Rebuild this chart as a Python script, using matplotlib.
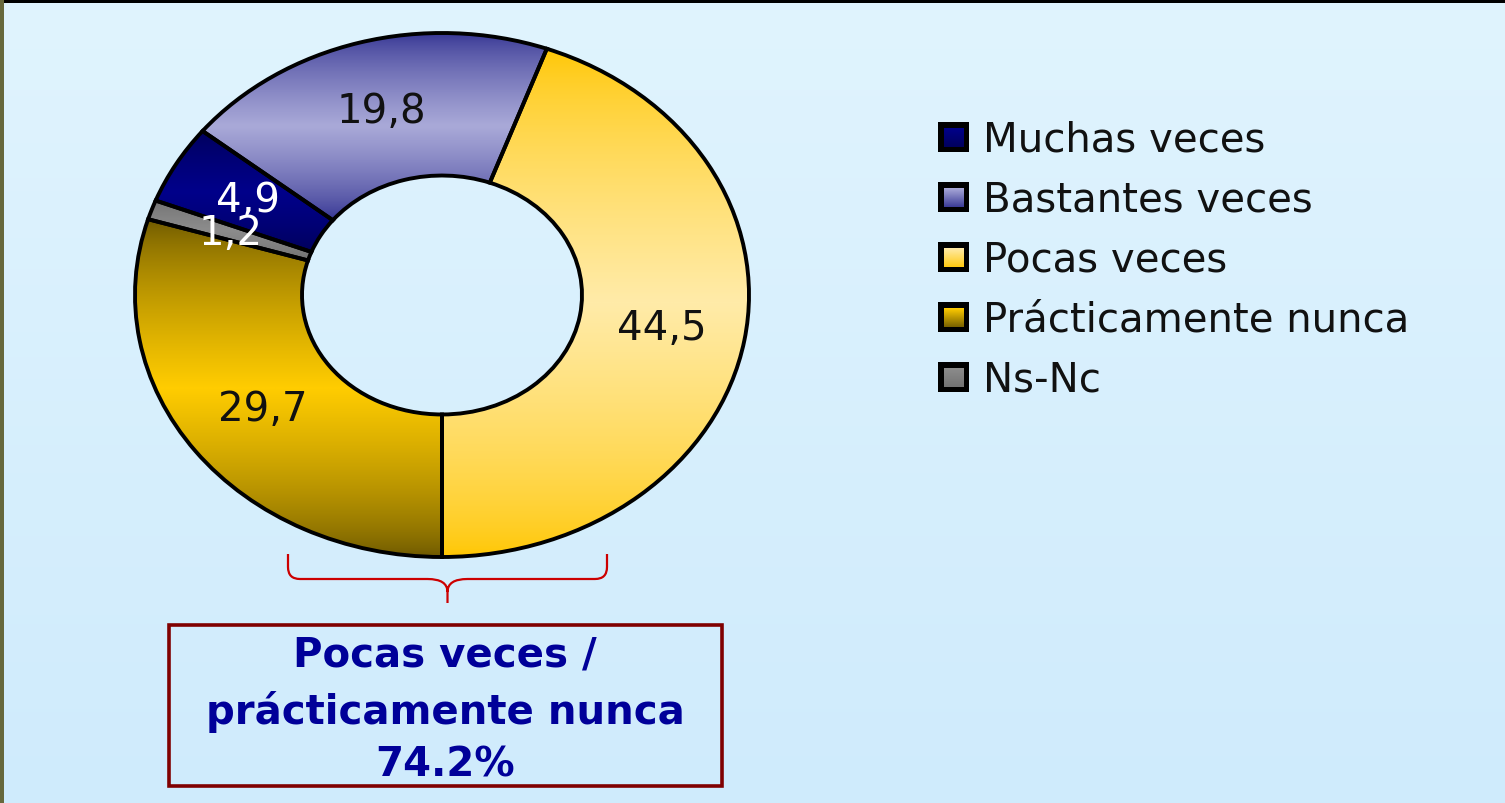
import numpy as np
import matplotlib.pyplot as plt
from matplotlib.colors import LinearSegmentedColormap
from matplotlib.patches import Rectangle, PathPatch
from matplotlib.path import Path

# survey answers, in legend order
categories = ['Muchas veces', 'Bastantes veces', 'Pocas veces',
              'Prácticamente nunca', 'Ns-Nc']
values = [4.9, 19.8, 44.5, 29.7, 1.2]
# order the ring is drawn in, counter-clockwise from the bottom
ring_order = [2, 1, 0, 4, 3]
# (edge colour, centre colour) of each slice gradient
shades = [('#000058', '#00008a'),
          ('#303090', '#a9a9d8'),
          ('#ffc600', '#ffeba8'),
          ('#6a5600', '#ffcc00'),
          ('#707070', '#8c8c8c')]
label_colors = ['white', '#111111', '#111111', '#111111', 'white']
box_lines = ['Pocas veces /', 'prácticamente nunca', '74.2%']

W, H = 1505, 804
fig = plt.figure(figsize=(W / 100, H / 100), dpi=100)

# background and frame, in pixel coordinates
bg = fig.add_axes([0, 0, 1, 1])
bg.axis('off')
bg_cmap = LinearSegmentedColormap.from_list('bg', ['#e0f4fe', '#cfebfc'])
bg.imshow(np.linspace(0, 1, 256).reshape(-1, 1), cmap=bg_cmap,
          extent=(0, W, H, 0), aspect='auto', zorder=0)
bg.add_patch(Rectangle((0, 0), W, 3.5, fc='black', ec='none', zorder=1))
bg.add_patch(Rectangle((0, 0), 3.5, H, fc='#66683c', ec='none', zorder=1))


def gradient_cmap(i):
    edge, centre = shades[i]
    return LinearSegmentedColormap.from_list('s%d' % i, [edge, centre])


# donut, squashed vertically
cx, cy, rx, ry = 442, 296, 307, 262
pad = 1.03
ax = fig.add_axes([(cx - rx * pad) / W, 1 - (cy + ry * pad) / H,
                   2 * rx * pad / W, 2 * ry * pad / H])
ring_w = 0.544
wedges, _ = ax.pie([values[i] for i in ring_order], startangle=270,
                   counterclock=True, radius=1,
                   wedgeprops=dict(width=ring_w, edgecolor='black',
                                   linewidth=2.8))

# light in the middle of each slice, darker towards its top and bottom
t = (1 - np.abs(np.linspace(-1, 1, 300)).reshape(-1, 1)) ** 0.7
for w, i in zip(wedges, ring_order):
    bb = w.get_path().get_extents()
    im = ax.imshow(t, cmap=gradient_cmap(i), extent=(bb.x0, bb.x1, bb.y0, bb.y1),
                   aspect='auto', interpolation='bilinear', zorder=w.get_zorder() - 0.5)
    im.set_clip_path(w)
    w.set_facecolor('none')

    mid = np.deg2rad((w.theta1 + w.theta2) / 2)
    r = 1 - ring_w / 2
    ax.text(r * np.cos(mid), r * np.sin(mid), ('%.1f' % values[i]).replace('.', ','),
            ha='center', va='center', fontsize=29, color=label_colors[i], zorder=5)

ax.set_aspect('auto')
ax.set_xlim(-pad, pad)
ax.set_ylim(-pad, pad)
ax.axis('off')

# legend
for k, name in enumerate(categories):
    top = 123 + 60 * k
    bg.add_patch(Rectangle((938, top), 31, 30, fc='black', ec='none', zorder=2))
    bg.imshow(np.linspace(1, 0.1, 50).reshape(-1, 1), cmap=gradient_cmap(k),
              vmin=0, vmax=1, extent=(944, 964, top + 25, top + 6),
              aspect='auto', zorder=3)
    bg.text(983, top + 29, name, fontsize=29, color='#111111',
            ha='left', va='baseline', zorder=3)


# curly brace under the two lower slices
def brace(x0, x1, y0, ym, yt):
    xc = (x0 + x1) / 2
    verts = [(x0, y0), (x0, ym - 12), (x0, ym), (x0 + 12, ym), (xc - 20, ym),
             (xc, ym), (xc, ym + 13), (xc, yt),
             (x1, y0), (x1, ym - 12), (x1, ym), (x1 - 12, ym), (xc + 20, ym),
             (xc, ym), (xc, ym + 13)]
    codes = [Path.MOVETO, Path.LINETO, Path.CURVE3, Path.CURVE3, Path.LINETO,
             Path.CURVE3, Path.CURVE3, Path.LINETO,
             Path.MOVETO, Path.LINETO, Path.CURVE3, Path.CURVE3, Path.LINETO,
             Path.CURVE3, Path.CURVE3]
    return PathPatch(Path(verts, codes), fc='none', ec='#cc0000', lw=1.6, zorder=2)


bg.add_patch(brace(288, 607, 555, 580, 604))

# summary box
bg.add_patch(Rectangle((169, 626), 553, 161, fc='none', ec='#800000',
                       lw=2.6, zorder=2))
for line, base in zip(box_lines, [667, 724, 777]):
    bg.text(445, base, line, fontsize=29, fontweight='bold', color='#000099',
            ha='center', va='baseline', zorder=3)

bg.set_xlim(0, W)
bg.set_ylim(H, 0)

fig.savefig('out.png', dpi=100)
